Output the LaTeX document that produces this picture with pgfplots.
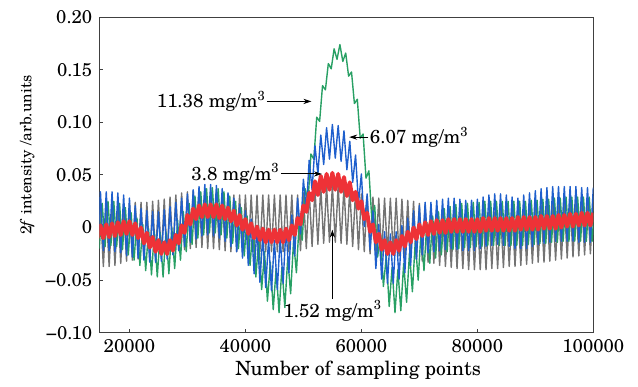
\documentclass[border=0pt]{standalone}
\usepackage{fontspec}
\setmainfont{TeX Gyre Schola}
\usepackage{pgfplots}
\usepackage{pgfplotstable}
\pgfplotsset{compat=1.18}
\usetikzlibrary{arrows.meta}
\definecolor{cgray}{RGB}{115,115,115}
\definecolor{cred}{RGB}{238,50,55}
\definecolor{cblue}{RGB}{30,95,205}
\definecolor{cgreen}{RGB}{40,160,100}
\newcommand{\annfont}{\fontsize{9.4}{11}\selectfont}
\begin{document}
\pgfplotstableread{
x gray red blue green
14500 -0.037 -0.010 -0.022 -0.020
15000 0.017 0.002 0.034 0.023
15500 -0.037 -0.010 -0.022 -0.018
16000 0.017 0.003 0.034 0.025
16500 -0.037 -0.009 -0.022 -0.017
17000 0.018 0.004 0.034 0.025
17500 -0.036 -0.008 -0.023 -0.018
18000 0.019 0.005 0.033 0.023
18500 -0.034 -0.007 -0.024 -0.021
19000 0.021 0.006 0.031 0.019
19500 -0.032 -0.006 -0.027 -0.026
20000 0.023 0.006 0.028 0.014
20500 -0.031 -0.007 -0.028 -0.031
21000 0.024 0.004 0.021 0.009
21500 -0.030 -0.010 -0.029 -0.036
22000 0.024 0.000 0.018 0.003
22500 -0.030 -0.015 -0.031 -0.041
23000 0.024 -0.005 0.016 -0.001
23500 -0.030 -0.019 -0.033 -0.045
24000 0.025 -0.009 0.015 -0.004
24500 -0.029 -0.023 -0.033 -0.047
25000 0.026 -0.012 0.015 -0.005
25500 -0.028 -0.025 -0.032 -0.047
26000 0.027 -0.014 0.017 -0.004
26500 -0.026 -0.025 -0.030 -0.044
27000 0.029 -0.012 0.020 0.000
27500 -0.024 -0.022 -0.026 -0.039
28000 0.031 -0.007 0.024 0.007
28500 -0.022 -0.015 -0.022 -0.031
29000 0.033 0.002 0.028 0.015
29500 -0.021 -0.005 -0.018 -0.023
30000 0.034 0.012 0.032 0.023
30500 -0.020 0.003 -0.014 -0.016
31000 0.035 0.018 0.036 0.030
31500 -0.019 0.008 -0.011 -0.010
32000 0.035 0.021 0.039 0.034
32500 -0.019 0.010 -0.008 -0.007
33000 0.035 0.022 0.041 0.037
33500 -0.020 0.010 -0.007 -0.005
34000 0.034 0.022 0.041 0.038
34500 -0.020 0.010 -0.008 -0.005
35000 0.034 0.022 0.040 0.037
35500 -0.021 0.009 -0.010 -0.007
36000 0.033 0.021 0.037 0.034
36500 -0.022 0.008 -0.013 -0.010
37000 0.032 0.019 0.033 0.030
37500 -0.023 0.006 -0.018 -0.015
38000 0.031 0.016 0.028 0.025
38500 -0.023 0.002 -0.023 -0.020
39000 0.031 0.012 0.022 0.019
39500 -0.023 -0.002 -0.029 -0.027
40000 0.031 0.008 0.016 0.011
40500 -0.023 -0.006 -0.036 -0.036
41000 0.031 0.004 0.008 0.001
41500 -0.023 -0.010 -0.044 -0.047
42000 0.031 0.001 0.000 -0.011
42500 -0.023 -0.012 -0.052 -0.059
43000 0.031 -0.001 -0.007 -0.023
43500 -0.023 -0.014 -0.057 -0.070
44000 0.031 -0.002 -0.011 -0.033
44500 -0.023 -0.014 -0.060 -0.078
45000 0.031 -0.002 -0.012 -0.039
45500 -0.023 -0.014 -0.059 -0.081
46000 0.031 -0.002 -0.009 -0.038
46500 -0.023 -0.014 -0.053 -0.076
47000 0.031 -0.001 -0.001 -0.029
47500 -0.023 -0.012 -0.043 -0.063
48000 0.031 0.002 0.012 -0.013
48500 -0.023 -0.007 -0.027 -0.043
49000 0.031 0.009 0.028 0.008
49500 -0.022 0.003 -0.006 -0.012
50000 0.033 0.021 0.046 0.037
50500 -0.020 0.015 0.016 0.025
51000 0.035 0.033 0.064 0.070
51500 -0.018 0.026 0.036 0.065
52000 0.037 0.044 0.078 0.105
52500 -0.016 0.031 0.051 0.101
53000 0.039 0.049 0.088 0.135
53500 -0.015 0.034 0.060 0.131
54000 0.040 0.051 0.095 0.156
54500 -0.014 0.036 0.065 0.151
55000 0.040 0.052 0.098 0.170
55500 -0.014 0.036 0.066 0.160
56000 0.040 0.051 0.097 0.174
56500 -0.015 0.034 0.063 0.158
57000 0.039 0.048 0.092 0.166
57500 -0.016 0.030 0.055 0.144
58000 0.037 0.043 0.082 0.148
58500 -0.018 0.026 0.043 0.118
59000 0.035 0.034 0.069 0.122
59500 -0.021 0.018 0.023 0.085
60000 0.032 0.025 0.051 0.089
60500 -0.023 0.008 0.001 0.047
61000 0.030 0.014 0.032 0.054
61500 -0.025 -0.004 -0.021 0.008
62000 0.029 0.003 0.016 0.021
62500 -0.026 -0.014 -0.039 -0.028
63000 0.028 -0.006 0.003 -0.007
63500 -0.026 -0.021 -0.049 -0.056
64000 0.028 -0.012 -0.004 -0.027
64500 -0.026 -0.025 -0.053 -0.075
65000 0.028 -0.014 -0.006 -0.038
65500 -0.026 -0.025 -0.053 -0.081
66000 0.028 -0.012 -0.004 -0.040
66500 -0.027 -0.022 -0.049 -0.079
67000 0.027 -0.008 0.002 -0.034
67500 -0.028 -0.018 -0.043 -0.071
68000 0.026 -0.004 0.009 -0.024
68500 -0.029 -0.014 -0.036 -0.061
69000 0.025 0.000 0.016 -0.013
69500 -0.030 -0.011 -0.030 -0.050
70000 0.023 0.003 0.021 -0.003
70500 -0.032 -0.008 -0.026 -0.041
71000 0.022 0.005 0.024 0.005
71500 -0.033 -0.007 -0.024 -0.034
72000 0.021 0.006 0.024 0.011
72500 -0.034 -0.006 -0.023 -0.029
73000 0.019 0.007 0.026 0.015
73500 -0.036 -0.005 -0.022 -0.026
74000 0.018 0.007 0.027 0.018
74500 -0.037 -0.005 -0.021 -0.023
75000 0.017 0.008 0.028 0.020
75500 -0.038 -0.004 -0.020 -0.021
76000 0.016 0.008 0.028 0.022
76500 -0.039 -0.004 -0.021 -0.020
77000 0.015 0.008 0.027 0.023
77500 -0.039 -0.004 -0.022 -0.019
78000 0.015 0.008 0.026 0.023
78500 -0.040 -0.004 -0.022 -0.019
79000 0.014 0.008 0.026 0.024
79500 -0.040 -0.004 -0.022 -0.018
80000 0.014 0.008 0.027 0.024
80500 -0.040 -0.004 -0.020 -0.018
81000 0.014 0.009 0.029 0.025
81500 -0.040 -0.003 -0.018 -0.017
82000 0.015 0.009 0.031 0.025
82500 -0.039 -0.003 -0.017 -0.017
83000 0.015 0.009 0.032 0.025
83500 -0.039 -0.003 -0.016 -0.017
84000 0.016 0.009 0.032 0.025
84500 -0.038 -0.003 -0.017 -0.017
85000 0.017 0.009 0.031 0.025
85500 -0.037 -0.003 -0.018 -0.017
86000 0.017 0.009 0.029 0.025
86500 -0.037 -0.003 -0.020 -0.017
87000 0.018 0.010 0.028 0.025
87500 -0.036 -0.002 -0.020 -0.017
88000 0.019 0.010 0.031 0.025
88500 -0.035 -0.002 -0.020 -0.016
89000 0.020 0.010 0.033 0.026
89500 -0.034 -0.002 -0.018 -0.016
90000 0.021 0.010 0.035 0.026
90500 -0.033 -0.002 -0.016 -0.015
91000 0.021 0.011 0.037 0.027
91500 -0.033 -0.001 -0.015 -0.015
92000 0.022 0.011 0.038 0.027
92500 -0.032 -0.001 -0.014 -0.014
93000 0.023 0.011 0.039 0.028
93500 -0.031 -0.001 -0.013 -0.014
94000 0.024 0.012 0.039 0.028
94500 -0.030 0.000 -0.013 -0.013
95000 0.025 0.012 0.039 0.029
95500 -0.029 0.001 -0.013 -0.013
96000 0.026 0.013 0.039 0.029
96500 -0.028 0.001 -0.013 -0.013
97000 0.027 0.013 0.039 0.029
97500 -0.027 0.002 -0.014 -0.013
98000 0.028 0.014 0.038 0.029
98500 -0.026 0.002 -0.014 -0.013
99000 0.029 0.014 0.038 0.029
99500 -0.025 0.002 -0.014 -0.013
100000 0.030 0.014 0.038 0.029
}\datatable
\begin{tikzpicture}
\begin{axis}[
  width=247pt, height=157.7pt, scale only axis,
  xmin=14800, xmax=100000, ymin=-0.1, ymax=0.2,
  xtick={20000,40000,60000,80000,100000},
  xticklabels={20000,40000,60000,80000,100000},
  ytick={-0.1,-0.05,0,0.05,0.1,0.15,0.2},
  yticklabels={−0.10,−0.05,0,0.05,0.10,0.15,0.20},
  scaled x ticks=false, scaled y ticks=false,
  tick pos=left, tick align=inside, major tick length=2pt,
  axis line style={black!75, line width=0.6pt},
  tick style={black!75, line width=0.5pt},
  ticklabel style={font=\fontsize{9.25}{11}\selectfont},
  xlabel={Number of sampling points},
  ylabel={2\textit{f} intensity /arb.units},
  xlabel style={font=\fontsize{9.8}{12}\selectfont, at={(axis description cs:0.524,-0.120)}, anchor=center},
  ylabel style={font=\fontsize{7.8}{10}\selectfont, at={(axis description cs:-0.146,0.563)}, anchor=center},
  every axis plot/.append style={line width=0.7pt, line join=round},
]
\addplot[cgray, no markers] table[x=x,y=gray]{\datatable};
\addplot[cgreen, no markers] table[x expr=\thisrow{x}+300,y=green]{\datatable};
\addplot[cblue, no markers] table[x=x,y=blue]{\datatable};
\addplot[cred, no markers, line width=2pt] table[x=x,y=red]{\datatable};
\node[anchor=east, inner sep=0pt, font=\annfont] at (axis cs:43600,0.120) {11.38 mg/m\textsuperscript{3}};
\draw[-{Stealth[length=4pt,width=2.6pt]}, line width=0.45pt] (axis cs:43700,0.120) -- (axis cs:51400,0.120);
\node[anchor=west, inner sep=0pt, font=\annfont] at (axis cs:61400,0.086) {6.07 mg/m\textsuperscript{3}};
\draw[-{Stealth[length=4pt,width=2.6pt]}, line width=0.45pt] (axis cs:61200,0.086) -- (axis cs:57900,0.086);
\node[anchor=east, inner sep=0pt, font=\annfont] at (axis cs:46000,0.051) {3.8 mg/m\textsuperscript{3}};
\draw[-{Stealth[length=4pt,width=2.6pt]}, line width=0.45pt] (axis cs:46100,0.051) -- (axis cs:53200,0.051);
\node[anchor=center, inner sep=0pt, font=\annfont] at (axis cs:55100,-0.079) {1.52 mg/m\textsuperscript{3}};
\draw[-{Stealth[length=4pt,width=2.6pt]}, line width=0.45pt] (axis cs:55000,-0.068) -- (axis cs:55000,-0.002);
\end{axis}
\path ([shift={(-49.65pt,-25.65pt)}]current axis.south west) rectangle ++(319pt,192pt);
\end{tikzpicture}
\end{document}
